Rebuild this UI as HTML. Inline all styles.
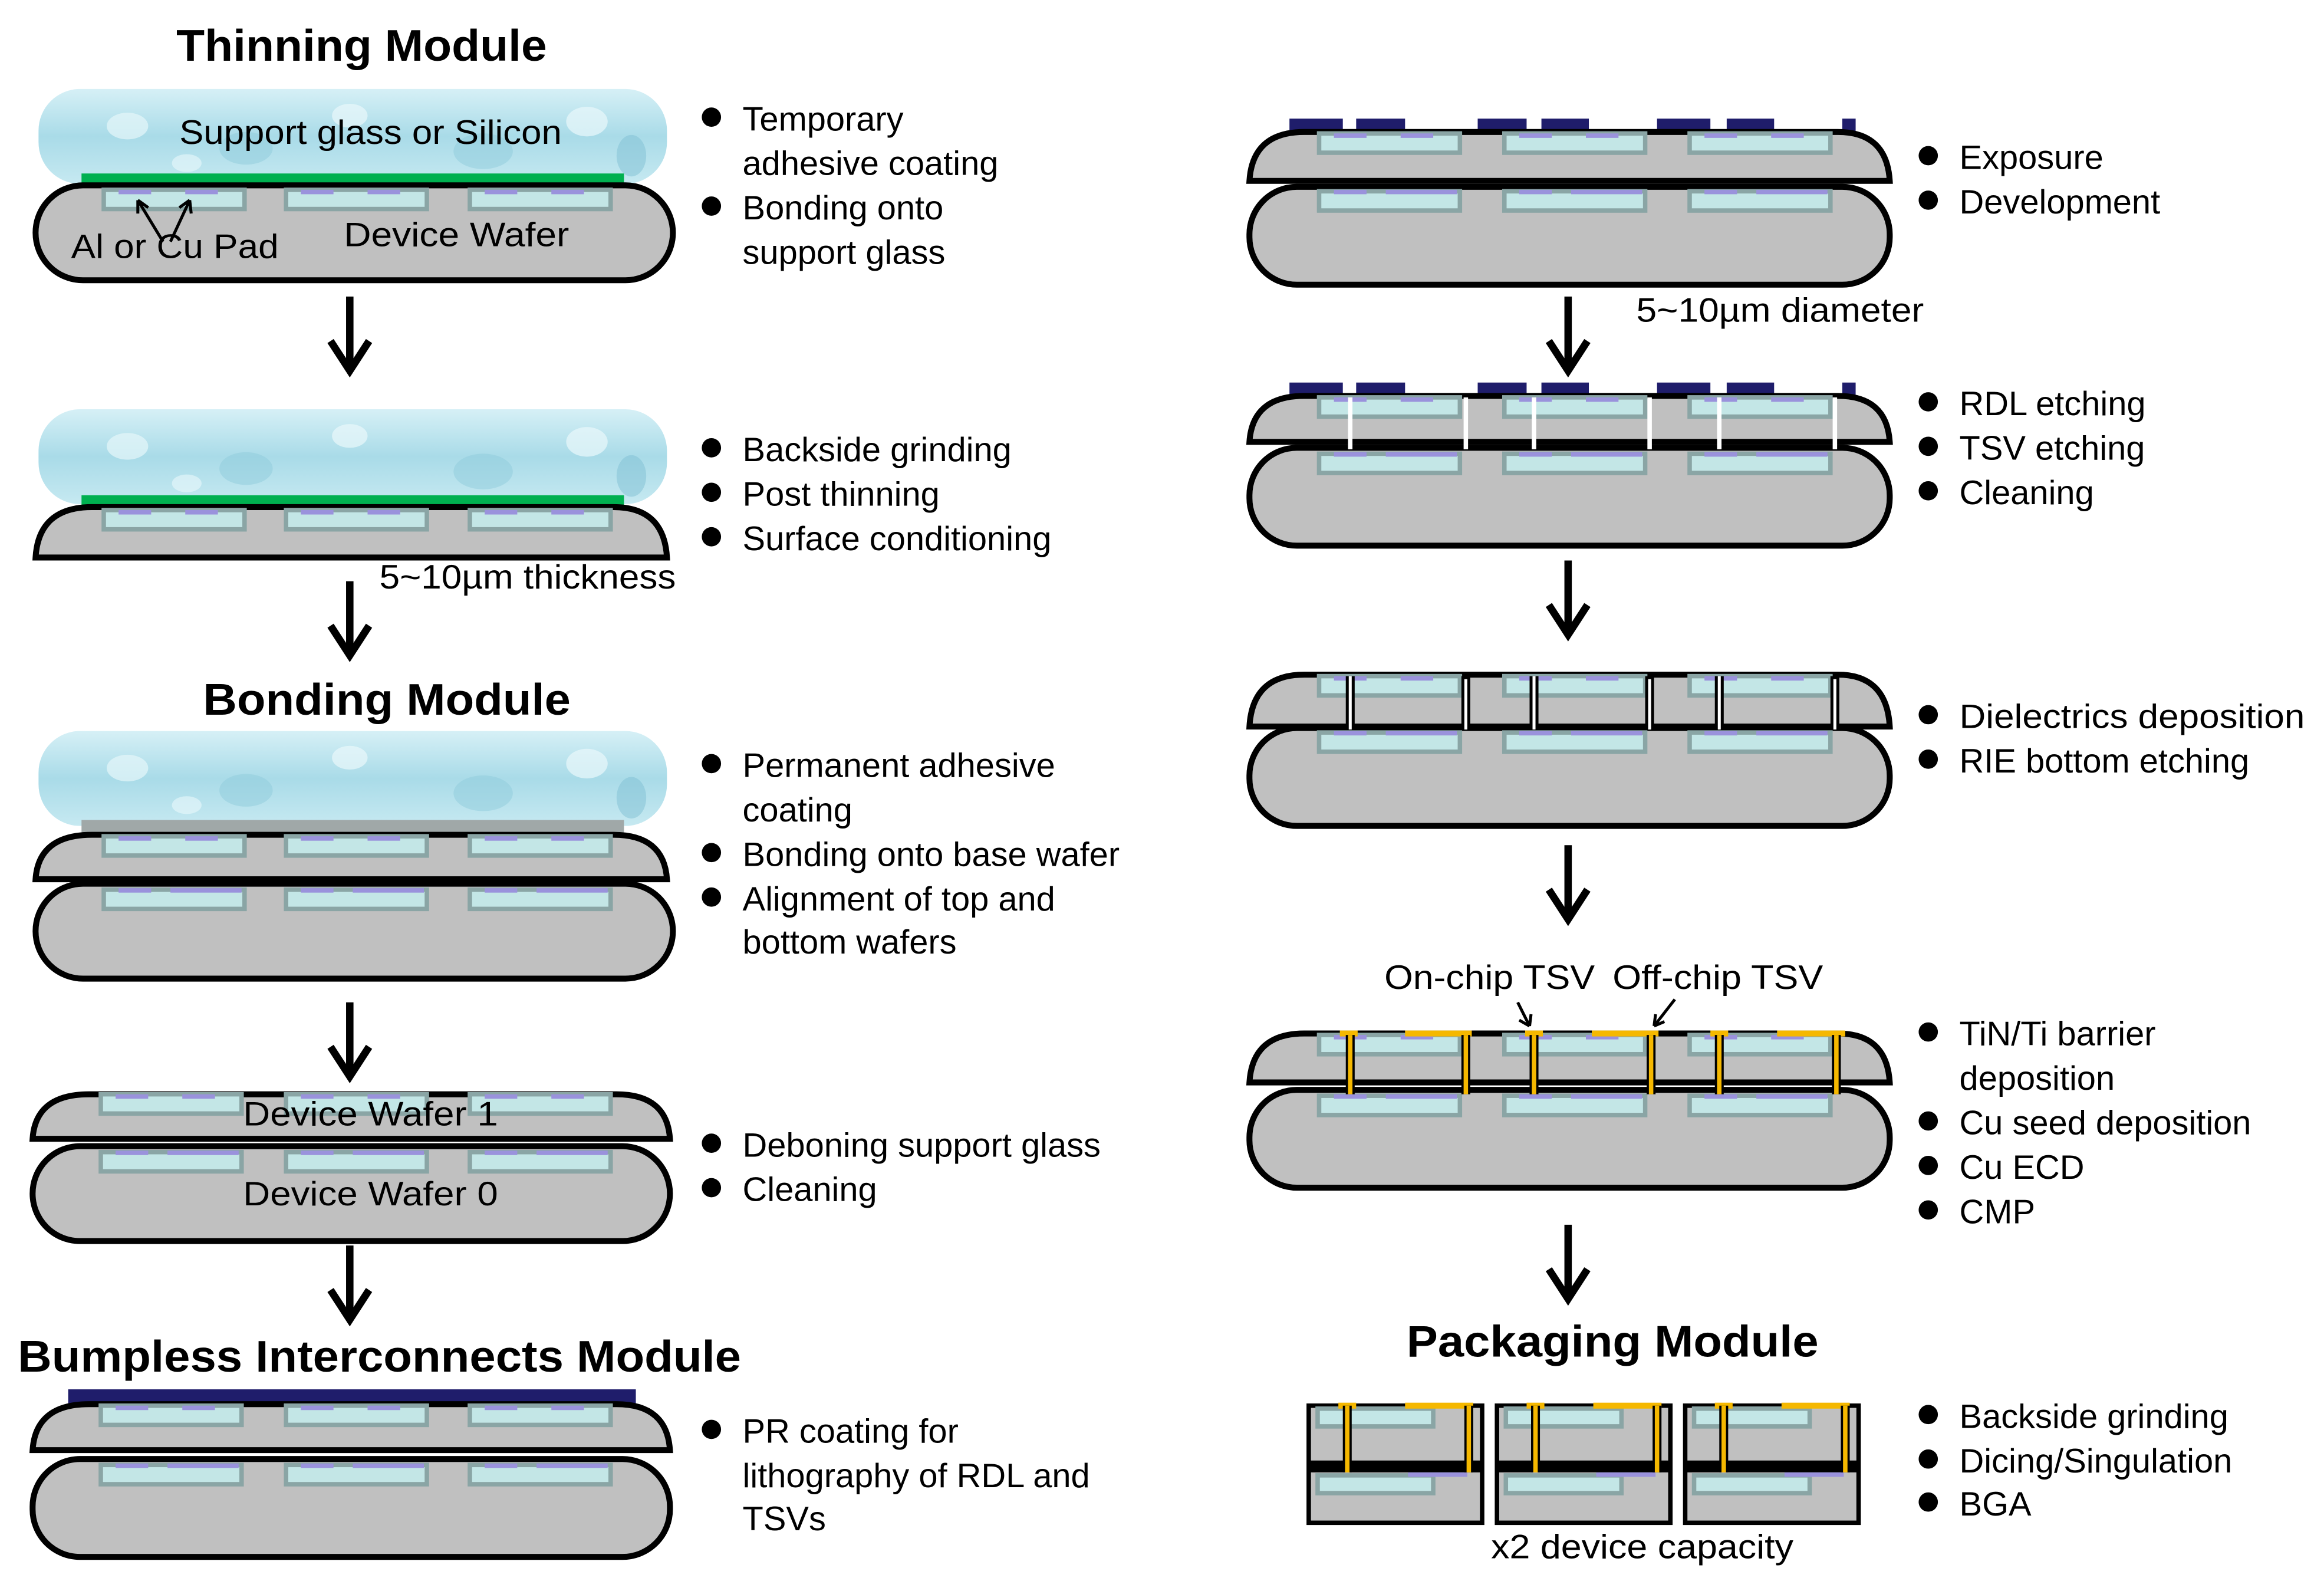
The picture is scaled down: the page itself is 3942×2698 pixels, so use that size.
<!DOCTYPE html>
<html><head><meta charset="utf-8"><style>
html,body{margin:0;padding:0;background:#fff;}
svg{display:block;}
text{font-family:"Liberation Sans",Arial,sans-serif;fill:#000;}
.b{font-weight:bold;font-size:30px;}
.t{font-size:23px;}
</style></head><body>
<svg width="3942" height="2698" viewBox="0 0 1568 1073" preserveAspectRatio="none" xmlns="http://www.w3.org/2000/svg">
<defs>
<linearGradient id="gl" x1="0" y1="0" x2="0" y2="1">
<stop offset="0" stop-color="#d6f0f6"/><stop offset="0.5" stop-color="#a9dbe8"/><stop offset="1" stop-color="#c6e9f1"/>
</linearGradient>
<g id="chip"><rect x="0" y="0" width="95" height="13" fill="#c3e6e6" stroke="#8aa5a5" stroke-width="3"/><rect x="10" y="0" width="22" height="3" fill="#9a92dc"/><rect x="55" y="0" width="22" height="3" fill="#9a92dc"/></g>
<g id="chipL"><rect x="0" y="0" width="95" height="13" fill="#c3e6e6" stroke="#8aa5a5" stroke-width="3"/><rect x="10" y="-1" width="22" height="3" fill="#9a92dc"/><rect x="45" y="-1" width="48" height="3" fill="#9a92dc"/></g>
<g id="arrow"><line x1="0" y1="0" x2="0" y2="48" stroke="#000" stroke-width="5"/><polyline points="-13,30 0,50 13,30" fill="none" stroke="#000" stroke-width="5"/></g>
<g id="bot"><rect x="0" y="0" width="430" height="64" rx="32" ry="32" fill="#c0c0c0" stroke="#000" stroke-width="4"/></g>
<g id="botR"><rect x="0" y="0" width="432" height="66" rx="32" ry="32" fill="#c0c0c0" stroke="#000" stroke-width="4"/></g>
<g id="glass"><rect x="0" y="0" width="424" height="64" rx="28" ry="28" fill="url(#gl)"/>
<ellipse cx="60" cy="25" rx="14" ry="9" fill="#e6f6fa" opacity=".7"/><ellipse cx="140" cy="40" rx="18" ry="11" fill="#8fcbdc" opacity=".5"/><ellipse cx="210" cy="18" rx="12" ry="8" fill="#eaf8fb" opacity=".7"/><ellipse cx="300" cy="42" rx="20" ry="12" fill="#8fcbdc" opacity=".5"/><ellipse cx="370" cy="22" rx="14" ry="10" fill="#eaf8fb" opacity=".7"/><ellipse cx="400" cy="45" rx="10" ry="14" fill="#7fc0d4" opacity=".5"/><ellipse cx="100" cy="50" rx="10" ry="6" fill="#eaf8fb" opacity=".6"/></g>
</defs>

<!-- ===== LEFT COLUMN ===== -->
<text class="b" x="244" y="41" text-anchor="middle" textLength="250" lengthAdjust="spacingAndGlyphs">Thinning Module</text>
<use href="#glass" x="26" y="60"/>
<text class="t" x="250" y="97" text-anchor="middle" textLength="258" lengthAdjust="spacingAndGlyphs">Support glass or Silicon</text>
<rect x="55" y="117" width="366" height="10" fill="#00b050"/>
<use href="#bot" x="24" y="125"/>
<use href="#chip" x="70" y="128"/><use href="#chip" x="193" y="128"/><use href="#chip" x="317" y="128"/>
<path d="M110,163 L93,135 M93,135 l0,9 M93,135 l7,5 M115,163 L128,135 M128,135 l-7,5 M128,135 l1,9" stroke="#000" stroke-width="2" fill="none"/>
<text class="t" x="48" y="174" textLength="140" lengthAdjust="spacingAndGlyphs">Al or Cu Pad</text>
<text class="t" x="232" y="166" textLength="152" lengthAdjust="spacingAndGlyphs">Device Wafer</text>
<use href="#arrow" x="236" y="200"/>

<use href="#glass" x="26" y="276"/>
<rect x="55" y="334" width="366" height="10" fill="#00b050"/>
<path d="M24,376 Q26,342 62,342 L414,342 Q448,342 450,376 Z" fill="#c0c0c0" stroke="#000" stroke-width="4"/>
<use href="#chip" x="70" y="344"/><use href="#chip" x="193" y="344"/><use href="#chip" x="317" y="344"/>
<text class="t" x="256" y="397" textLength="200" lengthAdjust="spacingAndGlyphs">5~10µm thickness</text>
<use href="#arrow" x="236" y="392"/>

<text class="b" x="261" y="482" text-anchor="middle" textLength="248" lengthAdjust="spacingAndGlyphs">Bonding Module</text>
<use href="#glass" x="26" y="493"/>
<rect x="55" y="553" width="366" height="9" fill="#a0a8a8"/>
<path d="M24,593 Q26,563 62,563 L414,563 Q448,563 450,593 Z" fill="#c0c0c0" stroke="#000" stroke-width="4"/>
<use href="#chip" x="70" y="564"/><use href="#chip" x="193" y="564"/><use href="#chip" x="317" y="564"/>
<use href="#bot" x="24" y="596"/>
<use href="#chipL" x="70" y="600"/><use href="#chipL" x="193" y="600"/><use href="#chipL" x="317" y="600"/>
<use href="#arrow" x="236" y="676"/>

<path d="M22,768 Q24,738 60,738 L416,738 Q450,738 452,768 Z" fill="#c0c0c0" stroke="#000" stroke-width="4"/>
<use href="#chip" x="68" y="738"/><use href="#chip" x="193" y="738"/><use href="#chip" x="317" y="738"/>
<text class="t" x="250" y="759" text-anchor="middle" textLength="172" lengthAdjust="spacingAndGlyphs">Device Wafer 1</text>
<rect x="22" y="773" width="430" height="64" rx="32" ry="32" fill="#c0c0c0" stroke="#000" stroke-width="4"/>
<use href="#chipL" x="68" y="777"/><use href="#chipL" x="193" y="777"/><use href="#chipL" x="317" y="777"/>
<text class="t" x="250" y="813" text-anchor="middle" textLength="172" lengthAdjust="spacingAndGlyphs">Device Wafer 0</text>
<use href="#arrow" x="236" y="840"/>

<text class="b" x="256" y="925" text-anchor="middle" textLength="488" lengthAdjust="spacingAndGlyphs">Bumpless Interconnects Module</text>
<rect x="46" y="937" width="383" height="10" fill="#1f1d6b"/>
<path d="M22,978 Q24,947 60,947 L416,947 Q450,947 452,978 Z" fill="#c0c0c0" stroke="#000" stroke-width="4"/>
<use href="#chip" x="68" y="948"/><use href="#chip" x="193" y="948"/><use href="#chip" x="317" y="948"/>
<rect x="22" y="984" width="430" height="66" rx="32" ry="32" fill="#c0c0c0" stroke="#000" stroke-width="4"/>
<use href="#chipL" x="68" y="988"/><use href="#chipL" x="193" y="988"/><use href="#chipL" x="317" y="988"/>

<!-- left bullets -->
<g class="t">
<circle cx="480" cy="79" r="6.5"/><text class="t" x="501" y="88">Temporary</text>
<text class="t" x="501" y="118">adhesive coating</text>
<circle cx="480" cy="139" r="6.5"/><text class="t" x="501" y="148">Bonding  onto</text>
<text class="t" x="501" y="178">support glass</text>
<circle cx="480" cy="302" r="6.5"/><text class="t" x="501" y="311">Backside grinding</text>
<circle cx="480" cy="332" r="6.5"/><text class="t" x="501" y="341">Post thinning</text>
<circle cx="480" cy="362" r="6.5"/><text class="t" x="501" y="371">Surface  conditioning</text>
<circle cx="480" cy="515" r="6.5"/><text class="t" x="501" y="524">Permanent adhesive</text>
<text class="t" x="501" y="554">coating</text>
<circle cx="480" cy="575" r="6.5"/><text class="t" x="501" y="584">Bonding  onto base wafer</text>
<circle cx="480" cy="605" r="6.5"/><text class="t" x="501" y="614">Alignment  of top and</text>
<text class="t" x="501" y="643">bottom wafers</text>
<circle cx="480" cy="771" r="6.5"/><text class="t" x="501" y="780">Deboning support glass</text>
<circle cx="480" cy="801" r="6.5"/><text class="t" x="501" y="810">Cleaning</text>
<circle cx="480" cy="964" r="6.5"/><text class="t" x="501" y="973">PR coating   for</text>
<text class="t" x="501" y="1003">lithography  of RDL and</text>
<text class="t" x="501" y="1032">TSVs</text>
</g>

<!-- ===== RIGHT COLUMN ===== -->
<!-- R1 -->
<g fill="#1f1d6b"><rect x="870" y="80" width="36" height="10"/><rect x="915" y="80" width="33" height="10"/><rect x="997" y="80" width="33" height="10"/><rect x="1040" y="80" width="32" height="10"/><rect x="1118" y="80" width="36" height="10"/><rect x="1165" y="80" width="32" height="10"/><rect x="1243" y="80" width="9" height="10"/></g>
<path d="M843,122 Q845,89 880,89 L1240,89 Q1273,89 1275,122 Z" fill="#c0c0c0" stroke="#000" stroke-width="4"/>
<use href="#chip" x="890" y="90"/><use href="#chip" x="1015" y="90"/><use href="#chip" x="1140" y="90"/>
<use href="#botR" x="843" y="126"/>
<use href="#chipL" x="890" y="129"/><use href="#chipL" x="1015" y="129"/><use href="#chipL" x="1140" y="129"/>
<use href="#arrow" x="1058" y="200"/>
<text class="t" x="1104" y="217" textLength="194" lengthAdjust="spacingAndGlyphs">5~10µm diameter</text>

<!-- R2 -->
<g fill="#1f1d6b"><rect x="870" y="258" width="36" height="10"/><rect x="915" y="258" width="33" height="10"/><rect x="997" y="258" width="33" height="10"/><rect x="1040" y="258" width="32" height="10"/><rect x="1118" y="258" width="36" height="10"/><rect x="1165" y="258" width="32" height="10"/><rect x="1243" y="258" width="9" height="10"/></g>
<path d="M843,298 Q845,267 880,267 L1240,267 Q1273,267 1275,298 Z" fill="#c0c0c0" stroke="#000" stroke-width="4"/>
<use href="#chip" x="890" y="268"/><use href="#chip" x="1015" y="268"/><use href="#chip" x="1140" y="268"/>
<use href="#botR" x="843" y="302"/>
<use href="#chipL" x="890" y="306"/><use href="#chipL" x="1015" y="306"/><use href="#chipL" x="1140" y="306"/>
<g stroke="#fff" stroke-width="3"><line x1="911" y1="268" x2="911" y2="303"/><line x1="989" y1="268" x2="989" y2="303"/><line x1="1035" y1="268" x2="1035" y2="303"/><line x1="1113" y1="268" x2="1113" y2="303"/><line x1="1160" y1="268" x2="1160" y2="303"/><line x1="1238" y1="268" x2="1238" y2="303"/></g>
<use href="#arrow" x="1058" y="378"/>

<!-- R3 -->
<path d="M843,490 Q845,455 880,455 L1240,455 Q1273,455 1275,490 Z" fill="#c0c0c0" stroke="#000" stroke-width="4"/>
<use href="#chip" x="890" y="456"/><use href="#chip" x="1015" y="456"/><use href="#chip" x="1140" y="456"/>
<use href="#botR" x="843" y="491"/>
<use href="#chipL" x="890" y="494"/><use href="#chipL" x="1015" y="494"/><use href="#chipL" x="1140" y="494"/>
<g stroke="#000" stroke-width="6"><line x1="911" y1="456" x2="911" y2="492"/><line x1="989" y1="456" x2="989" y2="492"/><line x1="1035" y1="456" x2="1035" y2="492"/><line x1="1113" y1="456" x2="1113" y2="492"/><line x1="1160" y1="456" x2="1160" y2="492"/><line x1="1238" y1="456" x2="1238" y2="492"/></g>
<g stroke="#fff" stroke-width="2"><line x1="911" y1="456" x2="911" y2="492"/><line x1="989" y1="458" x2="989" y2="492"/><line x1="1035" y1="456" x2="1035" y2="492"/><line x1="1113" y1="458" x2="1113" y2="492"/><line x1="1160" y1="456" x2="1160" y2="492"/><line x1="1238" y1="458" x2="1238" y2="492"/></g>
<use href="#arrow" x="1058" y="570"/>

<!-- R4 -->
<text class="t" x="934" y="667" textLength="142" lengthAdjust="spacingAndGlyphs">On-chip TSV</text>
<text class="t" x="1088" y="667" textLength="142" lengthAdjust="spacingAndGlyphs">Off-chip TSV</text>
<path d="M1024,676 L1032,692 M1032,692 l-7,-4 M1032,692 l1,-8 M1130,674 L1116,692 M1116,692 l1,-8 M1116,692 l7,-3" stroke="#000" stroke-width="2" fill="none"/>
<path d="M843,730 Q845,697 880,697 L1240,697 Q1273,697 1275,730 Z" fill="#c0c0c0" stroke="#000" stroke-width="4"/>
<use href="#chip" x="890" y="698"/><use href="#chip" x="1015" y="698"/><use href="#chip" x="1140" y="698"/>
<use href="#botR" x="843" y="735"/>
<use href="#chipL" x="890" y="739"/><use href="#chipL" x="1015" y="739"/><use href="#chipL" x="1140" y="739"/>
<g fill="#f5b800"><rect x="904" y="695" width="12" height="4"/><rect x="948" y="695" width="45" height="4"/><rect x="1029" y="695" width="12" height="4"/><rect x="1074" y="695" width="45" height="4"/><rect x="1154" y="695" width="12" height="4"/><rect x="1199" y="695" width="46" height="4"/></g>
<g stroke="#000" stroke-width="6"><line x1="911" y1="698" x2="911" y2="738"/><line x1="989" y1="698" x2="989" y2="738"/><line x1="1035" y1="698" x2="1035" y2="738"/><line x1="1114" y1="698" x2="1114" y2="738"/><line x1="1160" y1="698" x2="1160" y2="738"/><line x1="1239" y1="698" x2="1239" y2="738"/></g>
<g stroke="#f5b800" stroke-width="3"><line x1="911" y1="698" x2="911" y2="738"/><line x1="989" y1="698" x2="989" y2="738"/><line x1="1035" y1="698" x2="1035" y2="738"/><line x1="1114" y1="698" x2="1114" y2="738"/><line x1="1160" y1="698" x2="1160" y2="738"/><line x1="1239" y1="698" x2="1239" y2="738"/></g>
<use href="#arrow" x="1058" y="826"/>

<text class="b" x="1088" y="915" text-anchor="middle" textLength="278" lengthAdjust="spacingAndGlyphs">Packaging Module</text>
<!-- packaging boxes -->
<g id="pk">
<rect x="883" y="948" width="117" height="79" fill="#c0c0c0" stroke="#000" stroke-width="3"/>
<rect x="883" y="985" width="117" height="8" fill="#000"/>
<rect x="889" y="950" width="78" height="12" fill="#c3e6e6" stroke="#8aa5a5" stroke-width="3"/>
<rect x="889" y="995" width="78" height="12" fill="#c3e6e6" stroke="#8aa5a5" stroke-width="3"/>
<rect x="950" y="993" width="40" height="3" fill="#9a92dc"/>
<rect x="903" y="946" width="12" height="4" fill="#f5b800"/><rect x="948" y="946" width="46" height="4" fill="#f5b800"/>
<line x1="909" y1="948" x2="909" y2="993" stroke="#000" stroke-width="6"/><line x1="909" y1="948" x2="909" y2="993" stroke="#f5b800" stroke-width="3"/>
<line x1="991" y1="948" x2="991" y2="993" stroke="#000" stroke-width="6"/><line x1="991" y1="948" x2="991" y2="993" stroke="#f5b800" stroke-width="3"/>
</g>
<use href="#pk" x="127" y="0"/>
<use href="#pk" x="254" y="0"/>
<text class="t" x="1108" y="1051" text-anchor="middle" textLength="204" lengthAdjust="spacingAndGlyphs">x2 device capacity</text>

<!-- right bullets -->
<g>
<circle cx="1301" cy="105" r="6.5"/><text class="t" x="1322" y="114">Exposure</text>
<circle cx="1301" cy="135" r="6.5"/><text class="t" x="1322" y="144">Development</text>
<circle cx="1301" cy="271" r="6.5"/><text class="t" x="1322" y="280">RDL etching</text>
<circle cx="1301" cy="301" r="6.5"/><text class="t" x="1322" y="310">TSV etching</text>
<circle cx="1301" cy="331" r="6.5"/><text class="t" x="1322" y="340">Cleaning</text>
<circle cx="1301" cy="482" r="6.5"/><text class="t" x="1322" y="491" textLength="233" lengthAdjust="spacingAndGlyphs">Dielectrics deposition</text>
<circle cx="1301" cy="512" r="6.5"/><text class="t" x="1322" y="521">RIE bottom etching</text>
<circle cx="1301" cy="696" r="6.5"/><text class="t" x="1322" y="705">TiN/Ti barrier</text>
<text class="t" x="1322" y="735">deposition</text>
<circle cx="1301" cy="756" r="6.5"/><text class="t" x="1322" y="765">Cu seed deposition</text>
<circle cx="1301" cy="786" r="6.5"/><text class="t" x="1322" y="795">Cu ECD</text>
<circle cx="1301" cy="816" r="6.5"/><text class="t" x="1322" y="825">CMP</text>
<circle cx="1301" cy="954" r="6.5"/><text class="t" x="1322" y="963">Backside grinding</text>
<circle cx="1301" cy="984" r="6.5"/><text class="t" x="1322" y="993">Dicing/Singulation</text>
<circle cx="1301" cy="1013" r="6.5"/><text class="t" x="1322" y="1022">BGA</text>
</g>
</svg>
</body></html>
